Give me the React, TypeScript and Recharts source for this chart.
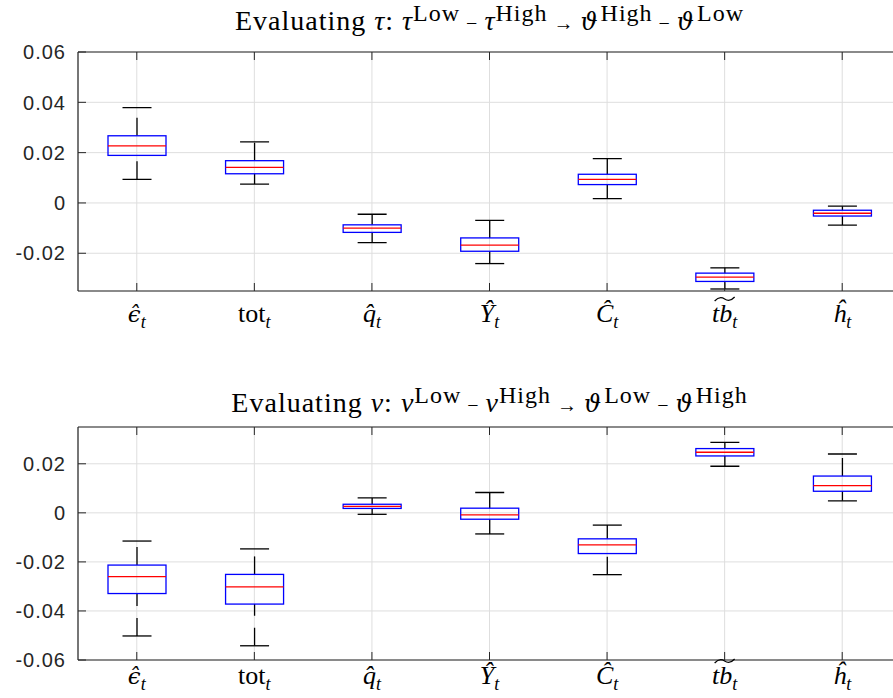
import React from 'react';
import { ComposedChart, Bar, XAxis, YAxis, CartesianGrid, ReferenceLine } from 'recharts';

const categories = ['eps', 'tot', 'q', 'Y', 'C', 'tb', 'h'];
// tick label pieces: base symbol (hat as combining mark), italic or roman, greek glyph, wide tilde over it
const tickBase = ['\u03F5\u0302', 'tot', 'q\u0302', 'Y\u0302', 'C\u0302', 'tb', 'h\u0302'];
const tickItalic = [true, false, true, true, true, true, true];
const tickGreek = [true, false, false, false, false, false, false];
const tickTilde = [false, false, false, false, false, true, false];

// panel 1: evaluating tau
const tauMin = [0.0094, 0.0075, -0.0158, -0.0241, 0.0017, -0.0342, -0.0088];
const tauQ1 = [0.0189, 0.0116, -0.0117, -0.0192, 0.0073, -0.0312, -0.0052];
const tauMed = [0.0227, 0.0141, -0.01, -0.0168, 0.0094, -0.0295, -0.0041];
const tauQ3 = [0.0267, 0.0168, -0.0087, -0.0139, 0.0114, -0.0279, -0.0029];
const tauMax = [0.0379, 0.0243, -0.0045, -0.0069, 0.0176, -0.0258, -0.0013];
const tauTicks = [-0.02, 0, 0.02, 0.04, 0.06];

// panel 2: evaluating nu
const nuMin = [-0.0502, -0.0542, -0.0006, -0.0086, -0.0252, 0.019, 0.0049];
const nuQ1 = [-0.0329, -0.0372, 0.0018, -0.0026, -0.0166, 0.0232, 0.0088];
const nuMed = [-0.026, -0.0302, 0.0026, -0.0008, -0.0131, 0.0247, 0.0111];
const nuQ3 = [-0.0213, -0.0251, 0.0035, 0.0019, -0.0106, 0.0262, 0.015];
const nuMax = [-0.0115, -0.0147, 0.0061, 0.0083, -0.005, 0.0287, 0.024];
const nuTicks = [-0.06, -0.04, -0.02, 0, 0.02];

const build = (mn: number[], q1: number[], md: number[], q3: number[], mx: number[]) =>
  categories.map((c, i) => ({ name: c, min: mn[i], q1: q1[i], med: md[i], q3: q3[i], max: mx[i] }));

const tauData = build(tauMin, tauQ1, tauMed, tauQ3, tauMax);
const nuData = build(nuMin, nuQ1, nuMed, nuQ3, nuMax);

const AXIS = '#262626';
const SERIF = '"Liberation Serif", "Times New Roman", serif';
const GREEK = '"DejaVu Serif", serif';
const W = 903;

// box drawn over the [min, max] range bar; inner values mapped from the bar's own pixels
const BoxShape = (props: any) => {
  const { x, y, width, height, payload } = props;
  const top = Math.min(y, y + height);
  const h = Math.abs(height);
  const span = payload.max - payload.min;
  const py = (v: number) => top + (h * (payload.max - v)) / span;
  const cx = x + width / 2;
  const cap = width / 4;
  return (
    <g>
      <line x1={cx} x2={cx} y1={py(payload.q3)} y2={py(payload.max)} stroke="#000" strokeWidth={1.3} strokeDasharray="18 12" />
      <line x1={cx} x2={cx} y1={py(payload.min)} y2={py(payload.q1)} stroke="#000" strokeWidth={1.3} strokeDasharray="18 12" />
      <line x1={cx - cap} x2={cx + cap} y1={py(payload.max)} y2={py(payload.max)} stroke="#000" strokeWidth={1.3} />
      <line x1={cx - cap} x2={cx + cap} y1={py(payload.min)} y2={py(payload.min)} stroke="#000" strokeWidth={1.3} />
      <rect x={x} y={py(payload.q3)} width={width} height={py(payload.q1) - py(payload.q3)} fill="none" stroke="#0000ff" strokeWidth={1.3} />
      <line x1={x} x2={x + width} y1={py(payload.med)} y2={py(payload.med)} stroke="#ff0000" strokeWidth={1.3} />
    </g>
  );
};

const YTick = (props: any) => {
  const { x, y, payload } = props;
  return (
    <g>
      <line x1={x + 12} x2={x + 20} y1={y} y2={y} stroke={AXIS} strokeWidth={1} />
      <text x={x} y={y} dy="0.36em" textAnchor="end" fill={AXIS}
        style={{ fontSize: 20, letterSpacing: 1, fontFamily: '"Liberation Sans", Arial, sans-serif' }}>
        {payload.value}
      </text>
    </g>
  );
};

const makeXTick = (plotTop: number, labelOffset: number) => (props: any) => {
  const { x, y, index } = props;
  const base = y + labelOffset;
  const tx = x - 10;
  const ty = base - 23;
  return (
    <g>
      <line x1={x} x2={x} y1={y} y2={y - 8} stroke={AXIS} strokeWidth={1} />
      <line x1={x} x2={x} y1={plotTop} y2={plotTop + 8} stroke={AXIS} strokeWidth={1} />
      <text x={x} y={base} textAnchor="middle" fill="#000" style={{ fontFamily: SERIF, fontSize: 26 }}>
        <tspan style={{
          fontStyle: tickItalic[index] ? 'italic' : 'normal',
          fontFamily: tickGreek[index] ? GREEK : SERIF,
          fontSize: tickGreek[index] ? 23 : 26,
        }}>{tickBase[index]}</tspan>
        <tspan style={{ fontStyle: 'italic', fontSize: 18 }} dy={6}>t</tspan>
      </text>
      {tickTilde[index] && (
        <path d={`M${tx},${ty + 2} Q${tx + 5},${ty - 3.5} ${tx + 10},${ty} Q${tx + 15},${ty + 3.5} ${tx + 20},${ty - 2}`}
          fill="none" stroke="#000" strokeWidth={1.2} />
      )}
    </g>
  );
};

const titleStyle: React.CSSProperties = {
  position: 'absolute',
  left: 78,
  width: 823,
  textAlign: 'center',
  fontFamily: SERIF,
  fontSize: 28,
  lineHeight: '32px',
  letterSpacing: 1,
  whiteSpace: 'nowrap',
  color: '#000',
};

const Sup = ({ children }: { children: React.ReactNode }) => (
  <sup style={{ fontSize: 24, verticalAlign: 9, lineHeight: 0 }}>{children}</sup>
);
const Vt = () => (
  <span style={{ fontFamily: GREEK, fontStyle: 'italic', fontSize: 24, marginRight: 2 }}>ϑ</span>
);
const Op = ({ children }: { children: React.ReactNode }) => (
  <span style={{ fontSize: 20, margin: '0 6px' }}>{children}</span>
);

interface PanelProps {
  data: any[];
  height: number;
  top: number;
  xHeight: number;
  domain: [number, number];
  ticks: number[];
  labelOffset: number;
}

const Panel = ({ data, height, top, xHeight, domain, ticks, labelOffset }: PanelProps) => (
  <ComposedChart width={W} height={height} data={data} margin={{ top, right: 2, bottom: 0, left: 0 }}>
    <CartesianGrid stroke="#dedede" strokeWidth={1} />
    <XAxis dataKey="name" height={xHeight} tickSize={0} tickMargin={0} stroke={AXIS} strokeWidth={1.2}
      tick={makeXTick(top, labelOffset)} interval={0} />
    <YAxis width={78} domain={domain} ticks={ticks} type="number" allowDataOverflow tickSize={0} tickMargin={12}
      stroke={AXIS} strokeWidth={1.2} tick={<YTick />} interval={0} />
    <ReferenceLine y={domain[1]} stroke={AXIS} strokeWidth={1.2} />
    <Bar dataKey={(d: any) => [d.min, d.max]} barSize={58} shape={<BoxShape />} isAnimationActive={false} />
  </ComposedChart>
);

export default function App() {
  return (
    <div style={{ position: 'absolute', left: 0, top: 0, width: 893, height: 698, overflow: 'hidden', background: '#fff' }}>
      <div style={{ position: 'absolute', left: 0, top: 0 }}>
        <Panel data={tauData} height={345} top={52} xHeight={54} domain={[-0.035, 0.06]} ticks={tauTicks} labelOffset={31} />
      </div>
      <div style={{ position: 'absolute', left: 0, top: 345 }}>
        <Panel data={nuData} height={353} top={82} xHeight={38} domain={[-0.06, 0.035]} ticks={nuTicks} labelOffset={24} />
      </div>
      <div style={{ ...titleStyle, top: 5 }}>
        Evaluating <i>τ</i>: <i>τ</i><Sup>Low</Sup><Op>−</Op><i>τ</i><Sup>High</Sup><Op>→</Op><Vt /><Sup>High</Sup><Op>−</Op><Vt /><Sup>Low</Sup>
      </div>
      <div style={{ ...titleStyle, top: 387 }}>
        Evaluating <i>ν</i>: <i>ν</i><Sup>Low</Sup><Op>−</Op><i>ν</i><Sup>High</Sup><Op>→</Op><Vt /><Sup>Low</Sup><Op>−</Op><Vt /><Sup>High</Sup>
      </div>
    </div>
  );
}
